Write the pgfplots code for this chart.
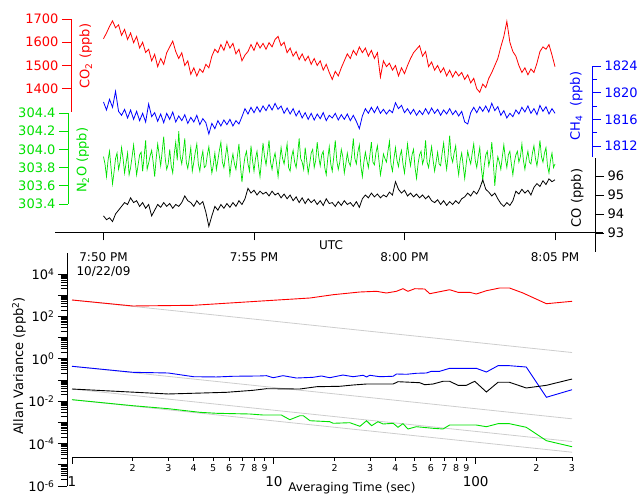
\documentclass[border=0pt]{standalone}
\usepackage{fontspec}
\setmainfont{DejaVu Sans}
\usepackage{pgfplots}
\usepackage{pgfplotstable}
\pgfplotsset{compat=1.18}
\definecolor{co2red}{RGB}{255,0,0}
\definecolor{ch4blue}{RGB}{0,0,255}
\definecolor{n2ogreen}{RGB}{0,225,0}
\definecolor{refgray}{RGB}{205,205,205}

% minutes after 7:50 PM UTC, CO2, CH4, CO (ppb)
\pgfplotstableread{
t co2 ch4 co
0.0 1615 1818.6 93.90
0.1 1640 1817.4 93.70
0.2 1668 1819.0 93.80
0.3 1692 1817.8 93.60
0.4 1662 1820.2 94.00
0.5 1675 1817.2 94.20
0.6 1630 1816.6 94.40
0.7 1655 1817.5 94.60
0.8 1612 1816.2 94.50
0.9 1640 1817.4 94.85
1.0 1598 1816.0 94.60
1.1 1625 1817.2 94.70
1.2 1575 1815.8 94.40
1.3 1600 1816.9 94.60
1.4 1556 1815.6 94.30
1.5 1570 1818.3 94.50
1.6 1520 1816.4 93.90
1.7 1548 1817.0 94.20
1.8 1495 1815.7 94.50
1.9 1530 1816.8 94.35
2.0 1505 1815.5 94.60
2.1 1555 1816.9 94.40
2.2 1580 1816.0 94.55
2.3 1605 1817.1 94.30
2.4 1560 1815.6 94.50
2.5 1530 1816.5 94.40
2.6 1555 1815.8 94.60
2.7 1500 1816.7 94.95
2.8 1520 1815.4 94.70
2.9 1462 1816.3 94.60
3.0 1490 1815.6 94.40
3.1 1455 1816.6 94.70
3.2 1485 1815.2 94.50
3.3 1470 1816.1 94.65
3.4 1505 1815.5 94.10
3.5 1490 1813.8 93.35
3.6 1540 1815.4 93.90
3.7 1570 1814.6 94.40
3.8 1555 1815.8 94.20
3.9 1590 1815.0 94.50
4.0 1565 1815.9 94.30
4.1 1605 1815.2 94.55
4.2 1575 1816.0 94.35
4.3 1595 1815.0 94.60
4.4 1550 1815.8 94.40
4.5 1570 1815.3 94.70
4.6 1520 1816.4 94.50
4.7 1545 1817.6 94.80
4.8 1560 1816.8 95.35
4.9 1590 1817.8 95.10
5.0 1565 1817.0 95.25
5.1 1600 1817.9 95.00
5.2 1575 1817.1 95.20
5.3 1595 1818.0 95.05
5.4 1570 1817.3 95.15
5.5 1598 1818.2 94.95
5.6 1580 1817.4 95.20
5.7 1612 1818.4 95.00
5.8 1625 1817.5 95.10
5.9 1585 1818.0 94.85
6.0 1600 1816.9 95.05
6.1 1555 1817.7 94.80
6.2 1575 1816.8 95.00
6.3 1540 1817.6 94.70
6.4 1560 1816.5 94.90
6.5 1525 1817.3 94.60
6.6 1550 1816.2 94.85
6.7 1520 1817.0 94.55
6.8 1540 1816.0 94.80
6.9 1505 1816.9 94.60
7.0 1530 1815.9 94.75
7.1 1500 1816.8 94.50
7.2 1520 1816.1 94.70
7.3 1480 1817.0 94.45
7.4 1505 1815.8 94.80
7.5 1470 1816.6 94.55
7.6 1440 1816.2 94.60
7.7 1475 1816.9 94.40
7.8 1455 1815.9 94.65
7.9 1490 1816.7 94.45
8.0 1520 1816.0 94.70
8.1 1550 1816.8 94.50
8.2 1530 1815.8 94.60
8.3 1565 1816.6 94.40
8.4 1545 1815.7 94.65
8.5 1580 1814.6 94.35
8.6 1555 1816.5 94.80
8.7 1575 1817.6 95.00
8.8 1540 1816.9 94.85
8.9 1565 1817.8 95.10
9.0 1530 1817.0 94.90
9.1 1555 1817.9 95.05
9.2 1450 1816.9 94.85
9.3 1520 1817.5 95.00
9.4 1495 1816.8 94.90
9.5 1510 1817.4 95.15
9.6 1480 1817.0 95.00
9.7 1500 1818.5 95.70
9.8 1455 1817.6 95.30
9.9 1490 1818.1 95.10
10.0 1465 1817.0 95.25
10.1 1500 1817.6 94.95
10.2 1530 1816.8 95.10
10.3 1555 1817.5 94.90
10.4 1570 1816.6 95.05
10.5 1585 1817.3 94.85
10.6 1540 1816.7 95.00
10.7 1560 1817.6 94.80
10.8 1495 1816.8 94.95
10.9 1515 1817.7 94.70
11.0 1480 1816.9 94.60
11.1 1500 1817.5 94.75
11.2 1470 1816.6 94.50
11.3 1490 1817.4 94.70
11.4 1455 1816.8 94.45
11.5 1480 1817.6 94.65
11.6 1450 1816.7 94.50
11.7 1475 1817.3 94.70
11.8 1455 1816.5 94.55
11.9 1470 1817.2 94.80
12.0 1440 1815.6 94.90
12.1 1460 1815.3 95.10
12.2 1425 1817.0 94.95
12.3 1445 1817.8 95.20
12.4 1400 1817.0 95.05
12.5 1385 1817.9 95.35
12.6 1420 1817.2 95.80
12.7 1405 1818.0 95.30
12.8 1445 1817.1 95.15
12.9 1470 1818.4 94.95
13.0 1500 1817.3 95.10
13.1 1530 1817.9 94.80
13.2 1580 1816.6 94.55
13.3 1625 1817.3 94.40
13.4 1690 1816.2 94.60
13.5 1600 1816.9 94.45
13.6 1560 1816.4 94.70
13.7 1540 1817.4 95.20
13.8 1500 1816.8 95.05
13.9 1470 1817.8 95.30
14.0 1490 1817.1 95.10
14.1 1460 1818.0 95.25
14.2 1485 1816.9 95.00
14.3 1470 1817.6 95.40
14.4 1510 1816.7 95.60
14.5 1560 1818.1 95.45
14.6 1580 1817.2 95.75
14.7 1570 1817.9 95.55
14.8 1590 1816.8 95.85
14.9 1545 1817.6 95.70
15.0 1495 1816.9 95.80
}\series

% N2O (ppb), denser sampling
\pgfplotstableread{
t n2o
0.00 303.92
0.05 303.84
0.10 303.70
0.15 303.88
0.20 303.98
0.25 303.80
0.30 303.62
0.35 303.75
0.40 303.90
0.45 303.96
0.50 303.78
0.55 303.86
0.60 304.02
0.65 303.90
0.70 303.74
0.75 303.85
0.80 303.96
0.85 303.72
0.90 303.80
0.95 303.92
1.00 304.05
1.05 303.88
1.10 303.72
1.15 303.83
1.20 303.94
1.25 303.97
1.30 303.76
1.35 303.92
1.40 304.10
1.45 303.78
1.50 303.85
1.55 303.93
1.60 303.99
1.65 303.86
1.70 303.70
1.75 303.90
1.80 304.06
1.85 303.94
1.90 303.82
1.95 303.98
2.00 304.14
2.05 303.90
2.10 303.78
2.15 303.84
2.20 304.00
2.25 303.82
2.30 303.74
2.35 303.95
2.40 304.08
2.45 303.88
2.50 304.20
2.55 303.92
2.60 303.84
2.65 303.97
2.70 304.12
2.75 303.86
2.80 303.79
2.85 303.90
2.90 304.02
2.95 303.76
3.00 303.86
3.05 303.97
3.10 304.06
3.15 303.84
3.20 303.76
3.25 303.90
3.30 303.98
3.35 303.80
3.40 303.82
3.45 303.94
3.50 304.03
3.55 303.88
3.60 303.74
3.65 303.83
3.70 303.96
3.75 303.78
3.80 303.88
3.85 303.99
3.90 304.08
3.95 303.86
4.00 303.80
4.05 303.92
4.10 304.04
4.15 303.90
4.20 303.72
4.25 303.86
4.30 303.95
4.35 303.84
4.40 303.78
4.45 303.93
4.50 304.06
4.55 303.82
4.60 303.64
4.65 303.80
4.70 303.92
4.75 303.98
4.80 303.84
4.85 303.76
4.90 304.04
4.95 303.88
5.00 303.76
5.05 303.90
5.10 303.98
5.15 303.82
5.20 303.70
5.25 303.88
5.30 304.07
5.35 303.92
5.40 303.83
5.45 303.96
5.50 304.10
5.55 303.86
5.60 303.78
5.65 303.89
5.70 303.96
5.75 303.84
5.80 303.70
5.85 303.86
5.90 304.02
5.95 303.90
6.00 303.84
6.05 303.95
6.10 304.06
6.15 303.80
6.20 303.76
6.25 303.92
6.30 303.99
6.35 303.86
6.40 303.80
6.45 303.94
6.50 304.12
6.55 303.90
6.60 303.86
6.65 303.78
6.70 304.02
6.75 303.88
6.80 303.74
6.85 303.84
6.90 303.96
6.95 304.00
7.00 303.80
7.05 303.88
7.10 304.08
7.15 303.92
7.20 303.82
7.25 303.94
7.30 303.98
7.35 303.80
7.40 303.72
7.45 303.90
7.50 304.03
7.55 303.84
7.60 303.76
7.65 303.92
7.70 304.10
7.75 303.88
7.80 303.78
7.85 303.86
7.90 304.00
7.95 303.92
8.00 303.74
8.05 303.84
8.10 303.96
8.15 303.86
8.20 303.82
8.25 303.94
8.30 304.12
8.35 303.90
8.40 303.84
8.45 303.97
8.50 304.05
8.55 303.82
8.60 303.70
8.65 303.86
8.70 303.97
8.75 303.88
8.80 303.80
8.85 303.94
8.90 304.08
8.95 303.86
9.00 303.83
9.05 303.96
9.10 304.04
9.15 303.88
9.20 303.72
9.25 303.82
9.30 303.95
9.35 303.90
9.40 303.86
9.45 303.98
9.50 304.09
9.55 303.84
9.60 303.76
9.65 303.90
9.70 304.02
9.75 303.88
9.80 303.81
9.85 303.93
9.90 303.99
9.95 303.84
10.00 303.74
10.05 303.90
10.10 304.06
10.15 303.92
10.20 303.82
10.25 303.94
10.30 304.00
10.35 303.80
10.40 303.68
10.45 303.84
10.50 303.94
10.55 303.98
10.60 303.84
10.65 303.90
10.70 304.10
10.75 303.86
10.80 303.80
10.85 303.92
10.90 304.03
10.95 303.88
11.00 303.76
11.05 303.86
11.10 303.97
11.15 303.84
11.20 303.82
11.25 303.96
11.30 304.07
11.35 303.90
11.40 303.78
11.45 303.94
11.50 304.15
11.55 303.92
11.60 303.86
11.65 303.96
11.70 304.04
11.75 303.84
11.80 303.72
11.85 303.88
11.90 303.96
11.95 303.82
12.00 303.68
12.05 303.84
12.10 303.98
12.15 303.90
12.20 303.84
12.25 303.96
12.30 304.06
12.35 303.88
12.40 303.80
12.45 303.92
12.50 304.02
12.55 303.80
12.60 303.66
12.65 303.82
12.70 303.94
12.75 303.98
12.80 303.82
12.85 303.90
12.90 304.08
12.95 303.86
13.00 303.60
13.05 303.80
13.10 303.92
13.15 303.86
13.20 303.78
13.25 303.92
13.30 304.05
13.35 303.90
13.40 303.80
13.45 303.94
13.50 303.98
13.55 303.84
13.60 303.72
13.65 303.86
13.70 303.94
13.75 303.98
13.80 303.86
13.85 303.92
13.90 304.06
13.95 303.88
14.00 303.78
14.05 303.90
14.10 303.98
14.15 303.86
14.20 303.84
14.25 303.96
14.30 304.04
14.35 303.90
14.40 303.82
14.45 303.94
14.50 304.10
14.55 303.92
14.60 303.86
14.65 303.96
14.70 304.02
14.75 303.82
14.80 303.74
14.85 303.88
14.90 303.96
14.95 303.80
15.00 303.84
}\nitrous

\pgfplotsset{
  free/.style={scale only axis, clip=false, tick align=outside,
    major tick length=9pt, minor tick length=5pt,
    scaled ticks=false,
    /pgf/number format/assume math mode=true,
    /pgf/number format/1000 sep={},
    tick label style={font=\fontsize{13}{15}\selectfont},
    label style={font=\fontsize{13}{15}\selectfont}},
}

\begin{document}
\begin{tikzpicture}
\path[use as bounding box] (0pt,0pt) rectangle (642pt,494pt);

% ---------- top panel: time series ----------
% CO2
\begin{axis}[free, at={(71pt,382pt)}, anchor=south west, width=532pt, height=93pt,
  xmin=-1.0797, xmax=16.5947, ymin=1300, ymax=1700,
  axis x line=none, axis y line*=left, ytick={1400,1500,1600,1700},
  axis line style={-,co2red,line width=0.9pt}, tick style={co2red,line width=0.9pt},
  yticklabel style={text=co2red},
  ylabel={CO\textsubscript{2} (ppb)},
  ylabel style={text=co2red, at={(axis description cs:0.0094,0.60)}, anchor=north}]
\addplot[co2red, line width=0.8pt] table[x=t, y=co2] {\series};
\end{axis}

% N2O
\begin{axis}[free, at={(68pt,290pt)}, anchor=south west, width=535pt, height=91pt,
  xmin=-1.1794, xmax=16.5947, ymin=303.3999, ymax=304.4001,
  axis x line=none, axis y line*=left, ytick={303.4,303.6,303.8,304.0,304.2,304.4},
  yticklabel style={text=n2ogreen, /pgf/number format/.cd, fixed, precision=1, fixed zerofill},
  axis line style={-,n2ogreen,line width=0.9pt}, tick style={n2ogreen,line width=0.9pt},
  ylabel={N\textsubscript{2}O (ppb)},
  ylabel style={text=n2ogreen, at={(axis description cs:0.0093,0.48)}, anchor=north}]
\addplot[n2ogreen, line width=0.7pt] table[x=t, y=n2o] {\nitrous};
\end{axis}

% CH4
\begin{axis}[free, at={(55pt,337pt)}, anchor=south west, width=537pt, height=91pt,
  xmin=-1.6113, xmax=16.2292, ymin=1810.35, ymax=1824,
  axis x line=none, axis y line*=right, ytick={1812,1816,1820,1824},
  minor ytick={1814,1818,1822},
  axis line style={-,ch4blue,line width=0.9pt}, tick style={ch4blue,line width=0.9pt},
  yticklabel style={text=ch4blue},
  ylabel={CH\textsubscript{4}\ \ (ppb)},
  ylabel style={text=ch4blue, at={(axis description cs:0.9888,0.56)}, anchor=south}]
\addplot[ch4blue, line width=0.8pt] table[x=t, y=ch4] {\series};
\end{axis}

% CO
\begin{axis}[free, at={(55pt,242pt)}, anchor=south west, width=540pt, height=94pt,
  xmin=-1.6113, xmax=16.3289, ymin=92, ymax=96.947,
  axis x line=none, axis y line*=right, ytick={93,94,95,96},
  axis line style={-,black,line width=0.9pt}, tick style={black,line width=0.9pt},
  ylabel={CO (ppb)},
  ylabel style={at={(axis description cs:0.9852,0.574)}, anchor=south}]
\addplot[black, line width=0.8pt] table[x=t, y=co] {\series};
\end{axis}

% time axis
\begin{axis}[free, at={(55pt,261.5pt)}, anchor=south west, width=548pt, height=100pt,
  xmin=-1.6113, xmax=16.5947, ymin=0, ymax=1,
  axis y line=none, axis x line*=bottom, major tick length=8pt,
  axis line style={-,black,line width=0.9pt}, tick style={black,line width=0.9pt},
  xtick={0,5,10,15},
  xticklabels={{7:50 PM\\10/22/09},{7:55 PM},{8:00 PM},{8:05 PM}},
  xticklabel style={align=center, anchor=north, yshift=-9pt, font=\fontsize{12}{14}\selectfont},
  xlabel={UTC},
  xlabel style={at={(axis description cs:0.5036,0)}, anchor=center, yshift=-12.5pt,
    font=\fontsize{12}{14}\selectfont}]
\end{axis}

% ---------- bottom panel: Allan variance ----------
% left log axis
\begin{axis}[free, at={(67pt,8pt)}, anchor=south west, width=505pt, height=233pt,
  ymode=log, xmin=0, xmax=1, ymin=1e-6, ymax=9.79e4,
  axis x line=none, axis y line*=left, minor tick length=6pt,
  axis line style={-,black,line width=0.9pt}, tick style={black,line width=0.9pt},
  ytick={1e-6,1e-5,1e-4,1e-3,1e-2,1e-1,1,1e1,1e2,1e3,1e4},
  yticklabels={10\textsuperscript{-6},,10\textsuperscript{-4},,10\textsuperscript{-2},,10\textsuperscript{0},,10\textsuperscript{2},,10\textsuperscript{4}},
  ylabel={Allan Variance (ppb\textsuperscript{2})},
  ylabel style={at={(axis description cs:-0.095,0.515)}, anchor=center}]
\end{axis}

% data and averaging-time axis
\begin{axis}[free, at={(72pt,37pt)}, anchor=south west, width=500pt, height=204pt,
  xmode=log, ymode=log, xmin=1, xmax=300, ymin=2.334e-5, ymax=9.79e4,
  axis y line=none, axis x line*=bottom, major tick length=4pt, xminorticks=false,
  axis line style={-,black,line width=0.9pt}, tick style={black,line width=0.9pt},
  xtick={2,3,4,5,6,7,8,9,20,30,40,50,60,70,80,90,200,300},
  xticklabels={2,3,4,5,6,7,8,9,2,3,4,5,6,7,8,9,2,3},
  xticklabel style={font=\fontsize{9.5}{10}\selectfont},
  extra x ticks={1,10,100}, extra x tick labels={1,10,100},
  extra x tick style={major tick length=7pt,
    xticklabel style={font=\fontsize{13.5}{15}\selectfont, yshift=-9pt}},
  xlabel={Averaging Time (sec)},
  xlabel style={at={(axis description cs:0.56,0)}, anchor=center, yshift=-31pt,
    font=\fontsize{12}{14}\selectfont}]
\addplot[refgray, line width=0.8pt] coordinates {(1,594) (300,1.98)};
\addplot[refgray, line width=0.8pt] coordinates {(1,0.443) (300,0.001477)};
\addplot[refgray, line width=0.8pt] coordinates {(1,0.0376) (300,0.0001253)};
\addplot[refgray, line width=0.8pt] coordinates {(1,0.01178) (300,0.00003927)};
\addplot[co2red, line width=0.9pt] coordinates {(1,594) (2,310) (4,334) (9.2,551) (15.1,738) (19.7,1057) (26.7,1416) (32.2,1528) (36.1,1270) (40.5,1528) (43.6,2028) (46.2,1528) (49.9,2028) (55.9,1960) (59.2,1177) (74.3,1815) (81.7,1370) (93.3,1370) (100.7,1140) (113,1629) (131.5,2188) (147,2188) (171.5,1270) (224,397) (300,515)};
\addplot[ch4blue, line width=0.9pt] coordinates {(1,0.443) (2,0.231) (3,0.214) (4,0.143) (5.2,0.139) (6.29,0.150) (8.52,0.155) (9.2,0.160) (9.92,0.128) (11.1,0.160) (12.95,0.124) (15.65,0.134) (17.2,0.155) (18.9,0.128) (22.0,0.172) (24.7,0.143) (27.7,0.167) (28.8,0.139) (29.9,0.167) (33.5,0.143) (39.0,0.150) (40.5,0.192) (45.4,0.186) (50.8,0.207) (57.0,0.214) (60.3,0.257) (66.3,0.257) (74.3,0.356) (100.7,0.356) (113,0.238) (129,0.473) (147,0.473) (178,0.410) (224,0.0153) (300,0.0348)};
\addplot[black, line width=0.9pt] coordinates {(1,0.0376) (3,0.0219) (5.83,0.0263) (7.9,0.0327) (9.2,0.0389) (13.45,0.0376) (16.3,0.0483) (21.2,0.0505) (24.7,0.0581) (28.8,0.0647) (39.0,0.0647) (41.2,0.0832) (52.8,0.0746) (55.9,0.0600) (61.5,0.0647) (68.9,0.0869) (74.3,0.0869) (81.7,0.0562) (89.9,0.0562) (98.9,0.0869) (113,0.0272) (129,0.078) (147,0.078) (178,0.042) (224,0.0562) (300,0.111)};
\addplot[n2ogreen, line width=0.9pt] coordinates {(1,0.01178) (2,0.00614) (3,0.00443) (4.3,0.00299) (5.2,0.00269) (7.6,0.00249) (8.85,0.00223) (10.9,0.00223) (12.0,0.00134) (13.45,0.00207) (14.0,0.00207) (15.1,0.00120) (18.9,0.00108) (19.7,0.000908) (23.8,0.000968) (26.7,0.000655) (28.8,0.00120) (30.5,0.000698) (32.8,0.00108) (34.8,0.000841) (39.0,0.000908) (41.2,0.000588) (43.6,0.000869) (46.2,0.000489) (50.8,0.000627) (61.5,0.000527) (68.9,0.000489) (74.3,0.000753) (100.7,0.000753) (113,0.000627) (129,0.000869) (147,0.000869) (178,0.000588) (224,0.000137) (300,0.0000714)};
\end{axis}
\end{tikzpicture}
\end{document}
